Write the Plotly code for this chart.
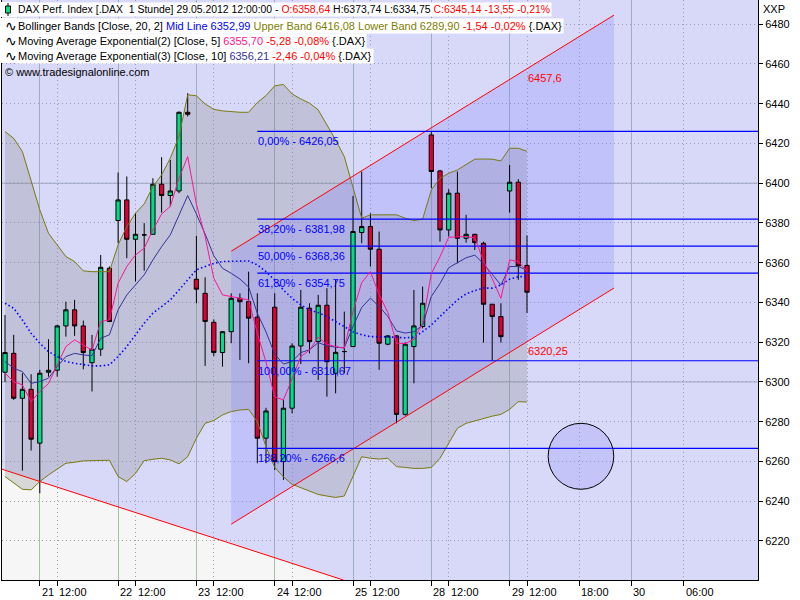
import plotly.graph_objects as go

# ---------------- data (hourly bars, index 0 = 18.05. 14:00 ... 60 = 29.05. 12:00) ----------------
opens = [6304.9, 6314.4, 6291.8, 6296.3, 6269.2, 6304.9, 6305.9, 6328.2, 6336.3, 6328.2,
         6309.7, 6316.5, 6357.2, 6381.2, 6391.6, 6371.8, 6374.0, 6374.3, 6399.5, 6393.8,
         6396.1, 6435.7, 6351.7, 6344.6, 6330.0, 6314.8, 6325.3, 6342.1, 6340.4, 6332.6,
         6271.7, 6337.6, 6259.9, 6286.8, 6318.1, 6337.1, 6320.3, 6338.6, 6304.4, 6315.3,
         6317.8, 6375.2, 6378.2, 6366.8, 6319.0, 6323.2, 6283.7, 6317.8, 6327.9, 6424.3,
         6406.2, 6376.5, 6395.0, 6372.3, 6374.3, 6369.8, 6339.1, 6332.9, 6396.1, 6400.5,
         6358.64]
highs = [6333.7, 6323.7, 6304.4, 6303.9, 6306.1, 6321.5, 6328.7, 6340.4, 6341.3, 6330.9,
         6323.7, 6363.9, 6358.1, 6405.4, 6403.4, 6384.9, 6379.9, 6402.5, 6413.1, 6411.7,
         6436.1, 6445.3, 6373.5, 6352.7, 6331.5, 6325.6, 6344.6, 6344.6, 6355.5, 6344.6,
         6287.0, 6344.6, 6291.0, 6319.5, 6346.3, 6339.6, 6343.8, 6347.2, 6351.3, 6335.4,
         6393.6, 6405.9, 6384.9, 6375.7, 6323.5, 6323.5, 6320.0, 6346.3, 6348.0, 6426.05,
         6406.7, 6397.0, 6405.9, 6384.1, 6374.5, 6370.6, 6339.3, 6339.6, 6409.2, 6402.0,
         6373.74]
lows = [6300.0, 6291.0, 6255.4, 6265.5, 6244.0, 6302.7, 6302.7, 6322.8, 6323.2, 6306.4,
        6295.2, 6313.1, 6330.4, 6369.8, 6362.3, 6350.5, 6356.0, 6374.3, 6385.2, 6388.3,
        6395.0, 6433.6, 6339.6, 6308.1, 6313.0, 6307.7, 6319.5, 6311.1, 6309.4, 6259.1,
        6259.1, 6255.7, 6250.7, 6284.2, 6309.0, 6314.4, 6301.0, 6292.6, 6294.3, 6304.4,
        6317.8, 6369.8, 6358.1, 6306.1, 6318.5, 6279.2, 6283.0, 6299.3, 6327.0, 6397.5,
        6370.6, 6373.2, 6359.7, 6370.1, 6366.4, 6319.8, 6310.67, 6319.8, 6385.2, 6351.4,
        6334.75]
closes = [6314.8, 6291.8, 6296.3, 6271.2, 6304.4, 6305.9, 6328.2, 6336.3, 6328.2, 6314.8,
          6316.5, 6357.7, 6330.4, 6391.6, 6371.8, 6374.3, 6374.0, 6399.5, 6393.8, 6396.1,
          6435.7, 6434.7, 6346.7, 6330.4, 6314.8, 6325.3, 6342.1, 6340.4, 6332.1, 6271.7,
          6285.4, 6259.9, 6286.8, 6318.1, 6337.6, 6320.3, 6338.6, 6310.2, 6314.9, 6315.3,
          6375.7, 6378.2, 6366.8, 6319.5, 6323.2, 6283.7, 6319.0, 6328.2, 6339.6, 6405.9,
          6376.5, 6395.0, 6372.3, 6374.3, 6370.1, 6339.1, 6332.9, 6322.8, 6400.5, 6358.4,
          6345.14]

bb_upper = [6426.0, 6422.6, 6415.9, 6401.7, 6386.6, 6374.8, 6369.0, 6363.1, 6360.6, 6355.9,
            6355.5, 6355.5, 6355.5, 6369.0, 6378.2, 6384.9, 6389.6, 6398.3, 6404.2, 6412.6,
            6423.5, 6444.5, 6444.0, 6439.9, 6437.2, 6436.4, 6435.9, 6435.7, 6435.7, 6440.6,
            6444.1, 6449.0, 6449.7, 6444.9, 6442.4, 6440.3, 6436.9, 6429.4, 6421.8, 6413.4,
            6398.3, 6382.4, 6384.1, 6384.1, 6384.4, 6384.1, 6382.4, 6381.2, 6381.9, 6396.6,
            6402.5, 6405.0, 6406.7, 6409.6, 6412.1, 6412.2, 6412.1, 6411.2, 6417.6, 6417.6,
            6416.08]
bb_lower = [6252.4, 6249.0, 6246.0, 6245.7, 6249.9, 6253.2, 6256.1, 6259.1, 6259.6, 6260.3,
            6260.4, 6260.6, 6260.6, 6252.4, 6249.9, 6254.0, 6260.4, 6261.1, 6261.6, 6260.8,
            6258.8, 6262.4, 6271.7, 6279.2, 6280.6, 6283.4, 6285.1, 6285.9, 6286.2, 6280.0,
            6267.4, 6257.0, 6252.3, 6248.5, 6246.8, 6245.1, 6243.4, 6242.6, 6241.9, 6242.6,
            6252.3, 6262.4, 6261.6, 6261.2, 6261.6, 6257.4, 6257.0, 6256.5, 6256.5, 6257.0,
            6261.6, 6269.1, 6276.7, 6279.2, 6280.5, 6281.7, 6282.8, 6283.7, 6286.2, 6290.1,
            6289.90]
bb_mid = [6339.6, 6337.1, 6331.2, 6324.5, 6319.5, 6315.3, 6312.8, 6310.3, 6309.4, 6308.6,
          6308.1, 6308.1, 6308.6, 6312.8, 6317.8, 6323.7, 6329.5, 6334.6, 6337.9, 6341.3,
          6346.3, 6351.3, 6356.4, 6358.1, 6359.7, 6360.6, 6360.6, 6360.9, 6360.9, 6358.9,
          6355.5, 6351.3, 6346.3, 6342.1, 6338.8, 6336.3, 6334.9, 6332.9, 6330.4, 6327.9,
          6325.3, 6323.7, 6322.8, 6322.8, 6322.8, 6322.5, 6322.2, 6322.5, 6325.3, 6328.7,
          6332.9, 6337.1, 6341.3, 6344.3, 6346.0, 6347.2, 6347.2, 6348.8, 6351.7, 6353.0,
          6352.99]
ema5 = [6304.4, 6300.2, 6298.5, 6290.1, 6295.2, 6299.2, 6308.6, 6317.8, 6321.2, 6318.5,
        6316.0, 6330.4, 6331.2, 6349.7, 6358.1, 6363.9, 6367.3, 6376.5, 6384.5, 6388.3,
        6402.5, 6413.4, 6389.5, 6373.2, 6352.2, 6343.8, 6343.0, 6342.1, 6341.3, 6324.5,
        6310.0, 6292.5, 6291.0, 6301.5, 6312.8, 6316.0, 6322.5, 6319.0, 6317.8, 6317.0,
        6335.5, 6350.0, 6355.5, 6344.0, 6335.0, 6319.5, 6319.3, 6321.5, 6329.5, 6354.5,
        6363.0, 6372.8, 6373.0, 6373.2, 6372.5, 6360.8, 6352.0, 6342.1, 6361.4, 6360.6,
        6355.70]
ema10 = [6310.3, 6306.9, 6305.2, 6299.3, 6300.2, 6301.9, 6307.7, 6312.8, 6314.4, 6313.6,
         6313.2, 6322.0, 6323.7, 6336.3, 6343.8, 6348.8, 6353.9, 6361.4, 6368.1, 6374.0,
         6384.0, 6393.8, 6384.5, 6374.5, 6363.5, 6357.2, 6354.7, 6351.8, 6347.8, 6334.6,
         6325.2, 6314.0, 6309.0, 6310.3, 6314.8, 6316.2, 6319.8, 6318.2, 6317.5, 6317.2,
         6327.9, 6337.5, 6342.2, 6338.0, 6333.0, 6325.7, 6324.6, 6325.3, 6328.5, 6343.0,
         6349.5, 6357.5, 6360.0, 6362.5, 6363.8, 6359.5, 6354.2, 6348.7, 6358.1, 6358.1,
         6356.21]

x_idx = list(range(len(closes)))

# axis ticks (bar positions)
day_ticks = [4, 13, 22, 31, 40, 49, 58, 72]
day_labels = ["21", "22", "23", "24", "25", "28", "29", "30"]
hour_ticks = [6, 15, 24, 33, 42, 51, 60, 66, 78]
hour_labels = ["12:00", "12:00", "12:00", "12:00", "12:00", "12:00", "12:00", "18:00", "06:00"]
y_ticks = list(range(6220, 6481, 20))
y_solid = [6300, 6400]

# drawing tools
fib_names = ["0,00%", "38,20%", "50,00%", "61,80%", "100,00%", "138,20%"]
fib_values = [6426.05, 6381.98, 6368.36, 6354.75, 6310.67, 6266.6]
fib_start = 29
channel_x = [26, 60, 70]
channel_upper = [6365.8, 6457.6, 6484.6]
channel_lower = [6228.45, 6320.25, 6347.25]
channel_labels = ["6457,6", "6320,25"]
trend_x = [-0.345, 38.5]
trend_y = [6256.1, 6200.9]
circle_center = (66.2, 6262.6)
circle_radius = (3.77, 16.6)

X_RANGE = [-0.345, 86.55]
Y_RANGE = [6200.35, 6492.2]

BLUE_FILL = "rgba(128,128,255,0.25)"


def path_of(xs, ys):
    return "M " + " L ".join(f"{a},{b}" for a, b in zip(xs, ys)) + " Z"


fig = go.Figure()
shapes = []

# solid horizontal grid lines at the round hundreds
for v in y_solid:
    shapes.append(dict(type="line", xref="paper", x0=0, x1=1, yref="y", y0=v, y1=v,
                       line=dict(color="#a8b8ac", width=1), layer="between"))

# large descending channel background (area above the red trend line)
slope = (trend_y[1] - trend_y[0]) / (trend_x[1] - trend_x[0])
y_left = trend_y[0] + (X_RANGE[0] - trend_x[0]) * slope
x_exit = trend_x[0] + (Y_RANGE[0] - trend_y[0]) / slope
shapes.append(dict(type="path", xref="x", yref="y", layer="between",
                   path=path_of([X_RANGE[0], x_exit, X_RANGE[1], X_RANGE[1], X_RANGE[0]],
                                [y_left, Y_RANGE[0], Y_RANGE[0], Y_RANGE[1], Y_RANGE[1]]),
                   fillcolor=BLUE_FILL, line=dict(width=0)))

# Bollinger band area
shapes.append(dict(type="path", xref="x", yref="y", layer="between",
                   path=path_of(x_idx + x_idx[::-1], bb_upper + bb_lower[::-1]),
                   fillcolor="rgba(128,128,128,0.26)", line=dict(width=0)))

# regression channel area
shapes.append(dict(type="path", xref="x", yref="y", layer="between",
                   path=path_of([channel_x[0], channel_x[-1], channel_x[-1], channel_x[0]],
                                [channel_upper[0], channel_upper[-1], channel_lower[-1], channel_lower[0]]),
                   fillcolor=BLUE_FILL, line=dict(width=0)))

# candles
fig.add_trace(go.Candlestick(
    x=x_idx, open=opens, high=highs, low=lows, close=closes,
    increasing=dict(line=dict(color="black", width=1), fillcolor="#00dd88"),
    decreasing=dict(line=dict(color="black", width=1), fillcolor="#dd0033"),
    whiskerwidth=0, showlegend=False, hoverinfo="skip"))

# Bollinger lines
fig.add_trace(go.Scatter(x=x_idx, y=bb_upper, mode="lines",
                         line=dict(color="#7a7a10", width=1), showlegend=False, hoverinfo="skip"))
fig.add_trace(go.Scatter(x=x_idx, y=bb_lower, mode="lines",
                         line=dict(color="#7a7a10", width=1), showlegend=False, hoverinfo="skip"))

# descending trend line and channel lines
fig.add_trace(go.Scatter(x=[X_RANGE[0], x_exit], y=[y_left, Y_RANGE[0]], mode="lines",
                         line=dict(color="#ff0000", width=1), showlegend=False, hoverinfo="skip"))
fig.add_trace(go.Scatter(x=[channel_x[0], channel_x[-1]], y=[channel_upper[0], channel_upper[-1]],
                         mode="lines", line=dict(color="#ff0000", width=1), showlegend=False, hoverinfo="skip"))
fig.add_trace(go.Scatter(x=[channel_x[0], channel_x[-1]], y=[channel_lower[0], channel_lower[-1]],
                         mode="lines", line=dict(color="#ff0000", width=1), showlegend=False, hoverinfo="skip"))

# Fibonacci lines
for v in fib_values:
    fig.add_trace(go.Scatter(x=[fib_start, X_RANGE[1]], y=[v, v], mode="lines",
                             line=dict(color="#0000ff", width=1.2), showlegend=False, hoverinfo="skip"))

# indicator lines
fig.add_trace(go.Scatter(x=x_idx, y=bb_mid, mode="lines",
                         line=dict(color="#0000ff", width=1.6, dash="1.5px,2.5px"), showlegend=False, hoverinfo="skip"))
fig.add_trace(go.Scatter(x=x_idx, y=ema10, mode="lines",
                         line=dict(color="#333399", width=1), showlegend=False, hoverinfo="skip"))
fig.add_trace(go.Scatter(x=x_idx, y=ema5, mode="lines",
                         line=dict(color="#ff1493", width=1), showlegend=False, hoverinfo="skip"))

cx, cy = circle_center
rx, ry = circle_radius
shapes.append(dict(type="circle", xref="x", yref="y", x0=cx - rx, x1=cx + rx, y0=cy - ry, y1=cy + ry,
                   line=dict(color="black", width=1), fillcolor="rgba(128,128,255,0.22)", layer="above"))

annotations = []
FONT = "Liberation Sans, Arial, sans-serif"
for v, n in zip(fib_values, fib_names):
    annotations.append(dict(x=fib_start, y=v, xref="x", yref="y", text=f"{n} - {str(v).replace('.', ',')}",
                            showarrow=False, xanchor="left", yanchor="top", yshift=-2, xshift=-1,
                            font=dict(family=FONT, size=11, color="#0000ff")))
annotations.append(dict(x=channel_x[1], y=channel_upper[1], xref="x", yref="y", text=channel_labels[0],
                        showarrow=False, xanchor="left", yanchor="top", yshift=-1, xshift=-1,
                        font=dict(family=FONT, size=11, color="#ff0000")))
annotations.append(dict(x=channel_x[1], y=channel_lower[1], xref="x", yref="y", text=channel_labels[1],
                        showarrow=False, xanchor="left", yanchor="top", yshift=-1, xshift=-1,
                        font=dict(family=FONT, size=11, color="#ff0000")))
for t, lab in zip(day_ticks + hour_ticks, day_labels + hour_labels):
    annotations.append(dict(x=t, y=0, xref="x", yref="paper", text=lab, showarrow=False,
                            xanchor="left", yanchor="top", yshift=-4, xshift=0,
                            font=dict(family=FONT, size=11, color="black")))
annotations.append(dict(x=1, y=1, xref="paper", yref="paper", text="XXP", showarrow=False,
                        xanchor="left", yanchor="top", xshift=3, yshift=-1,
                        font=dict(family=FONT, size=11, color="black")))

# header / legend rows
W = "&nbsp;"
rows = [
    "DAX Perf. Index [.DAX" + W + W + "1 Stunde] 29.05.2012 12:00:00 - "
    "<span style='color:#ff0000'>O:6358,64</span> H:6373,74 L:6334,75 "
    "<span style='color:#ff0000'>C:6345,14 -13,55 -0,21%</span>",
    "Bollinger Bands [Close, 20, 2] <span style='color:#0000ff'>Mid Line 6352,99</span> "
    "<span style='color:#808000'>Upper Band 6416,08</span> "
    "<span style='color:#808000'>Lower Band 6289,90</span> "
    "<span style='color:#ff0000'>-1,54 -0,02%</span> {.DAX}",
    "Moving Average Exponential(2) [Close, 5] <span style='color:#ff1493'>6355,70</span> "
    "<span style='color:#ff0000'>-5,28 -0,08%</span> {.DAX}",
    "Moving Average Exponential(3) [Close, 10] <span style='color:#333399'>6356,21</span> "
    "<span style='color:#ff0000'>-2,46 -0,04%</span> {.DAX}",
]
row_sizes = [10.45, 11, 11, 11]
PW, PH = 756.0, 580.0


def px(xp):
    return (xp - 2) / PW


def py(yp):
    return 1 - yp / PH


row_y = [2, 18, 33, 48]
row_h = 15
for i, r in enumerate(rows):
    # white strip behind the icon area
    shapes.append(dict(type="rect", xref="paper", yref="paper", x0=px(0), x1=px(17),
                       y0=py(row_y[i] + row_h), y1=py(row_y[i]),
                       fillcolor="white", line=dict(width=0), layer="above"))
    annotations.append(dict(x=px(16), y=py(row_y[i]), xref="paper", yref="paper",
                            text=r, showarrow=False, xanchor="left", yanchor="top",
                            bgcolor="white", borderpad=1,
                            font=dict(family=FONT, size=row_sizes[i], color="black")))
    if i > 0:
        annotations.append(dict(x=px(3), y=py(row_y[i] + row_h / 2), xref="paper", yref="paper",
                                text="∿", showarrow=False, xanchor="left", yanchor="middle",
                                font=dict(family="DejaVu Sans", size=14, color="black")))
annotations.append(dict(x=px(3), y=py(64), xref="paper", yref="paper",
                        text="© www.tradesignalonline.com", showarrow=False,
                        xanchor="left", yanchor="top",
                        font=dict(family=FONT, size=11, color="black")))
# candle icon of row 1
shapes.append(dict(type="line", xref="paper", yref="paper", x0=px(8), x1=px(8), y0=py(16), y1=py(3),
                   line=dict(color="black", width=1), layer="above"))
shapes.append(dict(type="rect", xref="paper", yref="paper", x0=px(5.5), x1=px(10.5), y0=py(13), y1=py(6),
                   fillcolor="#00dd88", line=dict(color="black", width=1), layer="above"))

fig.update_layout(
    width=800, height=600,
    margin=dict(l=2, r=42, t=0, b=20),
    paper_bgcolor="white", plot_bgcolor="#f6f6f6",
    showlegend=False, shapes=shapes, annotations=annotations,
    font=dict(family=FONT, size=11, color="black"),
    xaxis=dict(range=X_RANGE, rangeslider=dict(visible=False), tickmode="array",
               tickvals=day_ticks, showticklabels=False, ticks="outside", ticklen=5,
               tickcolor="black", showgrid=True, gridcolor="#a8c0a8", gridwidth=1,
               showline=True, linecolor="black", linewidth=1, mirror=True, zeroline=False,
               minor=dict(tickmode="array", tickvals=hour_ticks, ticks="outside", ticklen=5,
                          tickcolor="black", showgrid=True, gridcolor="#a0a0a0",
                          griddash="1px,3px", gridwidth=1)),
    yaxis=dict(range=Y_RANGE, side="right", tickmode="array", tickvals=y_ticks,
               ticktext=[str(v) for v in y_ticks], ticks="outside", ticklen=4, tickcolor="black",
               showgrid=True, gridcolor="#a0a0a0", griddash="1px,3px", gridwidth=1,
               showline=True, linecolor="black", linewidth=1, mirror=True, zeroline=False,
               tickfont=dict(family=FONT, size=11, color="black")),
)

fig.write_html("out.html", config={"displayModeBar": False, "staticPlot": True},
               post_script="document.body.style.margin='0px';document.body.style.padding='0px';"
                           "document.body.style.overflow='hidden';")
